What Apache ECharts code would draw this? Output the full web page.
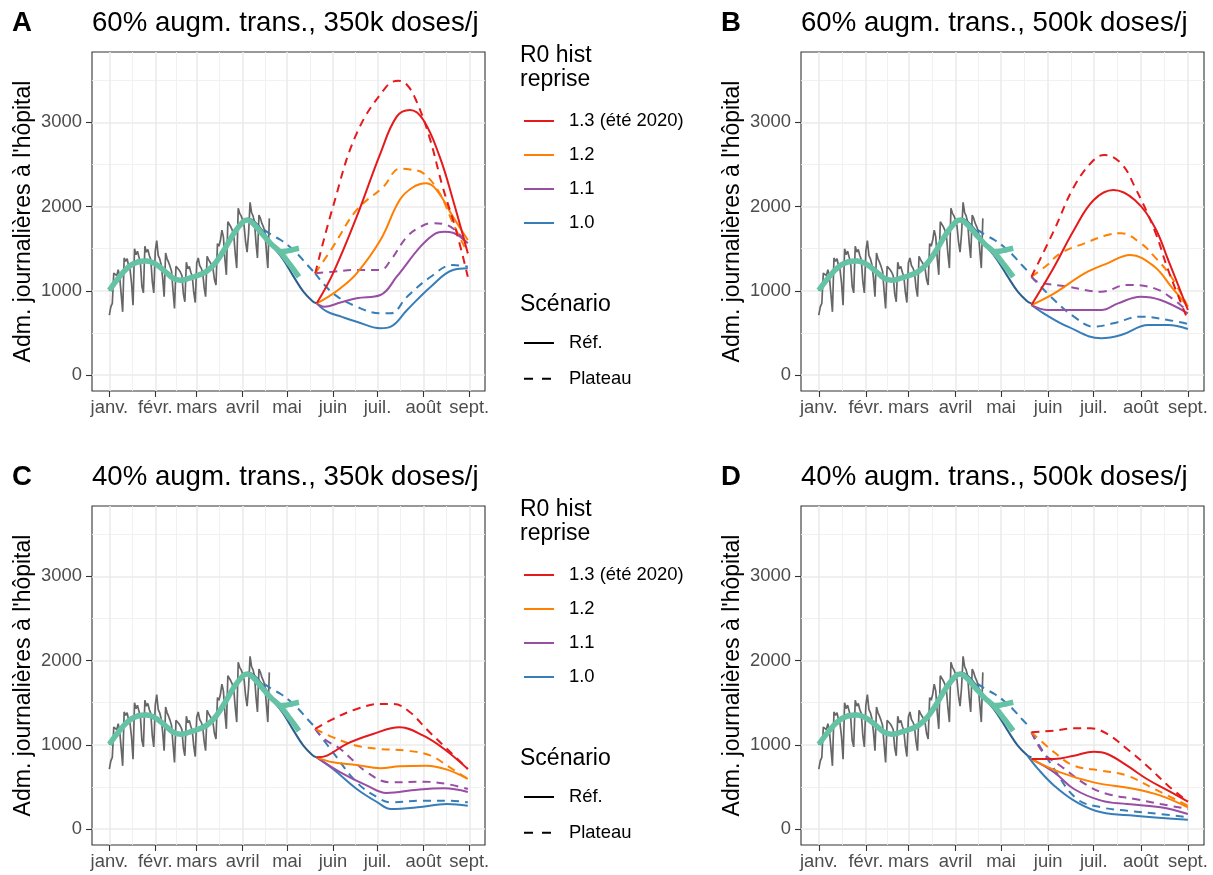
<!DOCTYPE html>
<html><head><meta charset="utf-8">
<script src="https://cdn.jsdelivr.net/npm/echarts@6/dist/echarts.min.js"></script>
<style>html,body{margin:0;padding:0;background:#fff}#c{width:1213px;height:875px}</style>
</head><body><div id="c"></div>
<script>
// ---------- axis ticks ----------
const monthLabels = ['janv.','févr.','mars','avril','mai','juin','juil.','août','sept.'];
const monthDays   = [0,31,59,90,120,151,181,212,243];           // days since 1 Jan 2021
const minorDays   = [15.5,45,74.5,105,135.5,166,196.5,227.5];
const yTicks      = [0,1000,2000,3000];
const yMinor      = [500,1500,2500,3500];

// ---------- observed daily admissions (day 0 = 1 Jan) ----------
const dailyAdm = [
 710,810,850,
 1210,1230,1180,1250,1160,960,750,
 1390,1350,1380,1300,1250,1090,830,
 1500,1430,1470,1400,1330,1050,975,
 1530,1460,1490,1420,1370,1110,975,
 1470,1595,1420,1380,1310,1150,930,
 1450,1380,1340,1290,1230,1000,790,
 1290,1280,1250,1220,1180,960,870,
 1340,1260,1290,1220,1170,980,860,
 1330,1390,1300,1270,1220,1040,930,
 1410,1370,1350,1310,1260,1130,1070,
 1560,1530,1600,1720,1640,1380,1190,
 1820,1790,1760,1720,1660,1440,1270,
 1980,1920,1890,1840,1770,1580,1460,
 1680,2050,1930,1890,1820,1570,1390,
 1900,1860,1800,1760,1700,1480,1270,
 1860
];

// ---------- smoothed observed (green) ----------
const smoothObs = [[0,1005],[6,1150],[13,1285],[19,1340],[25,1355],[31,1320],[37,1240],[43,1150],[48,1125],[54,1150],[60,1185],[66,1235],[72,1340],[78,1500],[84,1680],[90,1815],[93,1840],[97,1800],[103,1680],[109,1560],[115,1464],[122,1310],[128,1165]];
const smoothObsAlt = [[115,1464],[119,1470],[123,1485],[128,1505]];

// ---------- model fit (common part) ----------
const fitRef  = [[0,1000],[6,1160],[13,1300],[19,1360],[25,1370],[31,1330],[37,1240],[43,1150],[48,1125],[54,1150],[60,1185],[66,1235],[72,1340],[78,1500],[84,1690],[90,1830],[94,1855],[98,1820],[104,1700],[110,1540],[117,1380],[124,1180],[131,990],[137,880],[140,851]];
const fitPlat = [[97,1820],[104,1730],[110,1660],[116,1600],[122,1520],[128,1420],[134,1300],[139,1207]];

// ---------- projections: panel A ----------
const A_ref_13  = [[140,851],[151,1207],[167,1880],[183,2633],[194,3068],[203,3147],[212,3029],[223,2593],[232,2078],[242,1445]];
const A_plat_13 = [[139,1207],[151,2000],[167,2870],[187,3424],[195,3496],[201,3444],[207,3266],[216,2830],[225,2236],[234,1722],[242,1167]];
const A_ref_12  = [[140,851],[148,930],[156,1030],[167,1207],[183,1603],[196,2078],[205,2230],[214,2277],[221,2197],[232,1880],[242,1603]];
const A_plat_12 = [[139,1207],[151,1524],[167,1960],[185,2236],[196,2450],[203,2440],[212,2395],[223,2158],[232,1802],[242,1445]];
const A_ref_11  = [[140,851],[145,811],[156,860],[167,911],[183,950],[194,1167],[210,1524],[220,1680],[226,1702],[232,1690],[242,1564]];
const A_plat_11 = [[139,1207],[151,1227],[167,1247],[183,1247],[190,1366],[201,1643],[210,1760],[217,1802],[228,1781],[242,1544]];
const A_ref_10  = [[140,851],[147,752],[157,690],[167,633],[183,555],[190,574],[201,772],[217,1049],[232,1247],[242,1267]];
const A_plat_10 = [[139,1207],[151,970],[167,811],[183,733],[190,733],[201,930],[217,1167],[232,1306],[242,1286]];

// ---------- projections: panel B ----------
const B_ref_13  = [[140,831],[155,1286],[168,1722],[181,2078],[194,2197],[208,2078],[221,1761],[230,1366],[243,772]];
const B_plat_13 = [[140,1167],[155,1722],[168,2236],[181,2553],[188,2613],[199,2514],[208,2236],[221,1722],[230,1247],[243,653]];
const B_ref_12  = [[140,831],[155,970],[175,1207],[190,1326],[205,1425],[221,1286],[232,1049],[243,811]];
const B_plat_12 = [[140,1167],[150,1300],[159,1445],[175,1564],[190,1663],[199,1683],[212,1564],[221,1405],[232,1167],[243,811]];
const B_ref_11  = [[140,831],[151,772],[186,772],[197,851],[212,930],[225,891],[243,733]];
const B_plat_11 = [[140,1167],[144,1108],[164,1049],[186,989],[203,1069],[221,1029],[234,891],[243,752]];
const B_ref_10  = [[140,831],[148,733],[164,574],[186,436],[199,475],[217,594],[230,594],[243,546]];
const B_plat_10 = [[140,1167],[155,891],[168,693],[181,574],[194,614],[212,693],[230,653],[243,606]];

// ---------- projections: panel C ----------
const C_ref_13  = [[140,851],[147,871],[160,1009],[178,1128],[196,1208],[212,1108],[226,950],[242,713]];
const C_plat_13 = [[139,1188],[151,1306],[167,1425],[183,1485],[192,1485],[203,1386],[214,1188],[228,950],[242,713]];
const C_ref_12  = [[140,851],[151,792],[167,760],[183,721],[196,745],[214,752],[228,705],[242,594]];
const C_plat_12 = [[139,1188],[151,1089],[167,989],[183,950],[201,930],[217,871],[228,752],[242,594]];
const C_ref_11  = [[140,851],[156,673],[174,515],[187,428],[208,467],[226,483],[242,440]];
const C_plat_11 = [[139,1188],[145,1069],[156,950],[174,673],[190,554],[212,562],[228,534],[242,475]];
const C_ref_10  = [[140,851],[151,713],[167,475],[181,317],[190,238],[208,257],[228,297],[242,277]];
const C_plat_10 = [[139,1188],[151,911],[167,554],[181,376],[190,317],[212,337],[228,337],[242,317]];

// ---------- projections: panel D ----------
const D_ref_13  = [[140,830],[155,831],[168,871],[181,918],[190,891],[203,752],[216,594],[230,455],[243,325]];
const D_plat_13 = [[140,1150],[155,1168],[168,1196],[179,1196],[190,1128],[203,950],[216,752],[230,515],[243,325]];
const D_ref_12  = [[140,830],[159,673],[181,554],[208,475],[225,396],[243,257]];
const D_plat_12 = [[140,1150],[155,911],[168,752],[186,693],[203,634],[221,475],[243,277]];
const D_ref_11  = [[140,830],[155,673],[168,475],[186,337],[203,297],[225,257],[243,178]];
const D_plat_11 = [[140,1150],[148,900],[159,752],[177,515],[190,416],[208,356],[225,297],[243,238]];
const D_ref_10  = [[137,880],[144,720],[155,515],[170,317],[186,198],[208,158],[243,111]];
const D_plat_10 = [[140,1150],[155,713],[170,356],[186,257],[203,218],[225,178],[243,139]];

const r0Names  = ['1.3 (été 2020)','1.2','1.1','1.0'];
const r0Colors = ['#E41A1C','#FF7F00','#984EA3','#377EB8'];
const panelTitles = ['60% augm. trans., 350k doses/j','60% augm. trans., 500k doses/j','40% augm. trans., 350k doses/j','40% augm. trans., 500k doses/j'];
const panelLetters = ['A','B','C','D'];

const panels = [
  {ref:[A_ref_13,A_ref_12,A_ref_11,A_ref_10], plat:[A_plat_13,A_plat_12,A_plat_11,A_plat_10]},
  {ref:[B_ref_13,B_ref_12,B_ref_11,B_ref_10], plat:[B_plat_13,B_plat_12,B_plat_11,B_plat_10]},
  {ref:[C_ref_13,C_ref_12,C_ref_11,C_ref_10], plat:[C_plat_13,C_plat_12,C_plat_11,C_plat_10]},
  {ref:[D_ref_13,D_ref_12,D_ref_11,D_ref_10], plat:[D_plat_13,D_plat_12,D_plat_11,D_plat_10]}
];

// ---------- layout ----------
const FONT = 'Liberation Sans, Arial, Helvetica, sans-serif';
const gridPos = [
  {left:92,  top:52,  width:393, height:339},
  {left:801, top:52,  width:403, height:339},
  {left:92,  top:506, width:393, height:339},
  {left:801, top:506, width:403, height:339}
];
const XMIN = -11.7, XMAX = 253.6, YMIN = -190, YMAX = 3836;
const DASH = [8,6];

const grids=[], xAxes=[], yAxes=[], series=[], graphics=[];
gridPos.forEach((g,i)=>{
  grids.push(Object.assign({show:true, borderColor:'#333333', borderWidth:1.1, backgroundColor:'#fff', containLabel:false}, g));
  // major x
  xAxes.push({gridIndex:i, type:'value', min:XMIN, max:XMAX, position:'bottom',
    axisLine:{show:false, onZero:false},
    axisTick:{show:true, length:6, customValues:monthDays, lineStyle:{color:'#333333', width:1.1}},
    axisLabel:{customValues:monthDays, formatter:v=>{const k=monthDays.indexOf(v);return k>=0?monthLabels[k]:'';},
      color:'#4D4D4D', fontSize:18.4, fontFamily:FONT, margin:8},
    splitLine:{show:true, lineStyle:{color:'#EBEBEB', width:1.6}}});
  // minor x
  xAxes.push({gridIndex:i, type:'value', min:XMIN, max:XMAX, position:'top',
    axisLine:{show:false, onZero:false}, axisTick:{show:false, customValues:minorDays},
    axisLabel:{show:false, customValues:minorDays},
    splitLine:{show:true, lineStyle:{color:'#EFEFEF', width:0.9}}});
  // major y
  yAxes.push({gridIndex:i, type:'value', min:YMIN, max:YMAX, position:'left',
    axisLine:{show:false, onZero:false},
    axisTick:{show:true, length:6, customValues:yTicks, lineStyle:{color:'#333333', width:1.1}},
    axisLabel:{customValues:yTicks, formatter:v=>String(v), color:'#4D4D4D', fontSize:18.4, fontFamily:FONT, margin:10},
    splitLine:{show:true, lineStyle:{color:'#EBEBEB', width:1.6}},
    name:"Adm. journalières à l'hôpital", nameLocation:'middle', nameGap:57,
    nameTextStyle:{fontSize:23, color:'#000', fontFamily:FONT}});
  // minor y
  yAxes.push({gridIndex:i, type:'value', min:YMIN, max:YMAX, position:'right',
    axisLine:{show:false, onZero:false}, axisTick:{show:false, customValues:yMinor},
    axisLabel:{show:false, customValues:yMinor},
    splitLine:{show:true, lineStyle:{color:'#EFEFEF', width:0.9}}});

  const xi = i*2, yi = i*2;
  const base = {type:'line', xAxisIndex:xi, yAxisIndex:yi, symbol:'none', silent:true, animation:false};
  series.push(Object.assign({}, base, {name:'obs'+i, data:dailyAdm.map((v,d)=>[d,v]), z:2,
    lineStyle:{color:'#666666', width:1.7}}));
  series.push(Object.assign({}, base, {name:'fitRef'+i, data:fitRef, smooth:0.4, z:3,
    lineStyle:{color:'#2C5E8C', width:2}}));
  series.push(Object.assign({}, base, {name:'fitPlat'+i, data:fitPlat, smooth:0.4, z:3,
    lineStyle:{color:'#377EB8', width:2, type:DASH}}));
  for (let k=3;k>=0;k--){
    series.push(Object.assign({}, base, {name:'ref'+i+'_'+k, data:panels[i].ref[k], smooth:0.4, z:4,
      lineStyle:{color:r0Colors[k], width:2}}));
    series.push(Object.assign({}, base, {name:'plat'+i+'_'+k, data:panels[i].plat[k], smooth:0.4, z:4,
      lineStyle:{color:r0Colors[k], width:2, type:DASH}}));
  }
  series.push(Object.assign({}, base, {name:'smooth'+i, data:smoothObs, smooth:0.4, z:6,
    lineStyle:{color:'#66C2A5', width:5.5}}));
  series.push(Object.assign({}, base, {name:'smoothAlt'+i, data:smoothObsAlt, smooth:0.4, z:6,
    lineStyle:{color:'#66C2A5', width:5.5}}));

  // titles
  const ty = (i<2?23:477);
  graphics.push({type:'text', x:g.left-80, y:ty, style:{text:panelLetters[i], font:`bold 27.6px ${FONT}`, fill:'#000', verticalAlign:'middle'}});
  graphics.push({type:'text', x:g.left, y:ty, style:{text:panelTitles[i], font:`27.6px ${FONT}`, fill:'#000', verticalAlign:'middle'}});
});

// legend dummy series
r0Names.forEach((n,k)=>series.push({type:'line', name:n, xAxisIndex:0, yAxisIndex:0, data:[], symbol:'none', lineStyle:{color:r0Colors[k], width:2}, itemStyle:{color:r0Colors[k], opacity:0}}));
series.push({type:'line', name:'Réf.', xAxisIndex:0, yAxisIndex:0, data:[], symbol:'none', lineStyle:{color:'#000', width:2}, itemStyle:{color:'#000', opacity:0}});
series.push({type:'line', name:'Plateau', xAxisIndex:0, yAxisIndex:0, data:[], symbol:'none', lineStyle:{color:'#000', width:2, type:[9,9]}, itemStyle:{color:'#000', opacity:0}});

const legends=[];
[0,454].forEach(off=>{
  const common = {orient:'vertical', left:523, itemWidth:30, itemHeight:20, padding:0, selectedMode:false,
    itemStyle:{opacity:0},
    textStyle:{fontSize:18.4, color:'#000', fontFamily:FONT, padding:[0,0,0,10]}};
  legends.push(Object.assign({}, common, {top:112+off, itemGap:16, data:r0Names}));
  legends.push(Object.assign({}, common, {top:334+off, itemGap:17.7, data:['Réf.','Plateau']}));
  graphics.push({type:'text', x:520, y:44+off, style:{text:'R0 hist\nreprise', font:`23px ${FONT}`, lineHeight:23.5, fill:'#000'}});
  graphics.push({type:'text', x:520, y:292.5+off, style:{text:'Scénario', font:`23px ${FONT}`, lineHeight:23.5, fill:'#000'}});
});

const chart = echarts.init(document.getElementById('c'), null, {renderer:'canvas'});
chart.setOption({
  animation:false,
  backgroundColor:'#ffffff',
  grid:grids, xAxis:xAxes, yAxis:yAxes, series:series, legend:legends, graphic:graphics
});
</script></body></html>
